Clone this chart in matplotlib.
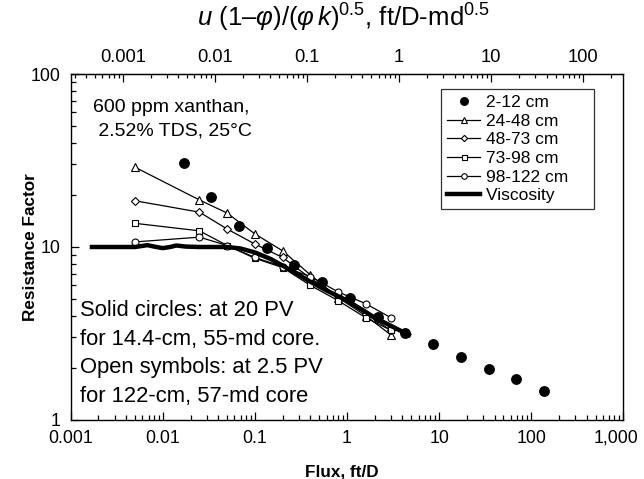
import matplotlib.pyplot as plt
import matplotlib.transforms as mtransforms
from matplotlib.ticker import FuncFormatter, NullFormatter, LogLocator, FixedLocator

plt.rcParams['font.family'] = ['Liberation Sans', 'DejaVu Sans']
plt.rcParams['mathtext.fontset'] = 'custom'
plt.rcParams['mathtext.rm'] = 'Liberation Sans'
plt.rcParams['mathtext.it'] = 'Liberation Sans:italic'

# solid circles, 2-12 cm section
flux_solid = [0.0168, 0.0336, 0.0672, 0.134, 0.269, 0.538, 1.08, 2.15, 4.3,
              8.6, 17.2, 34.4, 68.8, 137.6]
rf_solid = [30.5, 19.5, 13.3, 9.9, 7.9, 6.25, 5.1, 3.96, 3.2,
            2.75, 2.3, 1.96, 1.72, 1.48]

# open symbols, 122-cm core
flux_open = [0.005, 0.025, 0.05, 0.1, 0.2, 0.4, 0.8, 1.6, 3.0]
rf_24_48 = [28.9, 18.7, 15.7, 11.9, 9.5, 6.9, 5.1, 4.0, 3.1]
rf_48_73 = [18.5, 15.9, 12.7, 10.4, 8.7, 6.6, 5.2, 4.1, 3.3]
rf_73_98 = [13.7, 12.4, 10.2, 8.6, 7.6, 6.0, 4.9, 3.9, 3.3]
rf_98_122 = [10.7, 11.4, 10.2, 8.7, 7.7, 6.75, 5.5, 4.7, 3.9]

# viscosity curve
flux_visc = [0.0017, 0.003, 0.005, 0.0068, 0.0085, 0.01, 0.012, 0.014, 0.018,
             0.025, 0.035, 0.05, 0.07, 0.1, 0.15, 0.2, 0.3, 0.4, 0.6, 1.0,
             1.5, 2.0, 3.0, 4.7]
rf_visc = [10, 10, 10, 10.25, 10.0, 9.85, 10.0, 10.2, 10.05,
           10, 10, 10, 9.8, 9.3, 8.5, 7.8, 6.9, 6.3, 5.6, 4.9,
           4.3, 3.9, 3.5, 3.1]

bottom_ticks = [0.001, 0.01, 0.1, 1, 10, 100, 1000]
top_ticks = [0.001, 0.01, 0.1, 1, 10, 100]
y_ticks = [1, 10, 100]
top_factor = 0.272  # u(1-phi)/(phi k)^0.5 per ft/D


def fmt(v, pos):
    return '{:,.3f}'.format(v).rstrip('0').rstrip('.')


fig = plt.figure(figsize=(6.44, 4.79), dpi=100)
ax = fig.add_axes([0.1098, 0.1232, 0.8581, 0.7223])
ax.set_xscale('log')
ax.set_yscale('log')

lw = 0.9
ax.plot(flux_open, rf_24_48, color='black', lw=lw, marker='^', ms=5.5,
        mfc='white', mec='black', mew=0.8, label='24-48 cm')
ax.plot(flux_open, rf_48_73, color='black', lw=lw, marker='D', ms=4,
        mfc='white', mec='black', mew=0.8, label='48-73 cm')
ax.plot(flux_open, rf_73_98, color='black', lw=lw, marker='s', ms=4.5,
        mfc='white', mec='black', mew=0.8, label='73-98 cm')
ax.plot(flux_open, rf_98_122, color='black', lw=lw, marker='o', ms=5,
        mfc='white', mec='black', mew=0.8, label='98-122 cm')
ax.plot(flux_visc, rf_visc, color='black', lw=3.2, label='Viscosity')
ax.plot(flux_solid, rf_solid, 'o', color='black', ms=6.8, ls='none',
        label='2-12 cm', zorder=5)

ax.set_xlim(0.001, 1000)
ax.set_ylim(1, 100)

ax.xaxis.set_major_locator(FixedLocator(bottom_ticks))
ax.yaxis.set_major_locator(FixedLocator(y_ticks))
for a in (ax.xaxis, ax.yaxis):
    a.set_minor_locator(LogLocator(base=10, subs=range(2, 10)))
    a.set_major_formatter(FuncFormatter(fmt))
    a.set_minor_formatter(NullFormatter())
ax.tick_params(which='both', direction='in', top=False, right=False,
               labelsize=12.8, width=0.9)
ax.tick_params(which='major', length=6, pad=7)
ax.tick_params(which='minor', length=3.5)
for s in ax.spines.values():
    s.set_linewidth(1.0)

sec = ax.secondary_xaxis('top', functions=(lambda x: x * top_factor,
                                           lambda x: x / top_factor))
sec.xaxis.set_major_locator(FixedLocator(top_ticks))
sec.xaxis.set_minor_locator(LogLocator(base=10, subs=range(2, 10)))
sec.xaxis.set_major_formatter(FuncFormatter(fmt))
sec.xaxis.set_minor_formatter(NullFormatter())
sec.tick_params(which='both', direction='in', labelsize=13.2, width=0.9)
sec.tick_params(which='major', length=6, pad=6)
sec.tick_params(which='minor', length=3)

ax.set_xlabel('Flux, ft/D', fontsize=12.3, fontweight='bold')
ax.xaxis.set_label_coords(0.49, -0.13)
ax.set_ylabel('Resistance Factor', fontsize=12.3, fontweight='bold')
ax.yaxis.set_label_coords(-0.059, 0.5)
fig.text(343 / 644, 1 - 18 / 479,
         r'$u$ (1–$φ$)/($φ\,k$)$^{0.5}$, ft/D-md$^{0.5}$',
         fontsize=18.5, ha='center', va='center')

# pull the last bottom label a bit inside like the reference
fig.canvas.draw()
shift = mtransforms.ScaledTranslation(-7 / 100, 0, fig.dpi_scale_trans)
for lab in ax.xaxis.get_majorticklabels():
    if lab.get_text() == '1,000':
        lab.set_transform(lab.get_transform() + shift)

handles, labels = ax.get_legend_handles_labels()
order = [5, 0, 1, 2, 3, 4]
leg = ax.legend([handles[i] for i in order],
                [labels[i] + '    ' for i in order],
                loc='upper right', bbox_to_anchor=(0.947, 0.957),
                borderaxespad=0, fontsize=12.5, frameon=True, fancybox=False,
                edgecolor='black', numpoints=1, handlelength=1.9,
                handletextpad=0.35, labelspacing=0.2, borderpad=0.35,
                markerscale=0.8)
leg.get_frame().set_linewidth(0.9)

fig.text(93 / 644, 1 - 107 / 479, '600 ppm xanthan,', fontsize=14,
         va='center')
fig.text(93 / 644, 1 - 131 / 479, ' 2.52% TDS, 25°C', fontsize=14,
         va='center')

notes = ['Solid circles: at 20 PV', 'for 14.4-cm, 55-md core.',
         'Open symbols: at 2.5 PV', 'for 122-cm, 57-md core']
for i, t in enumerate(notes):
    fig.text(80 / 644, 1 - (311 + 28.5 * i) / 479, t, fontsize=15.8,
             va='center')

fig.savefig('out.png', dpi=100)
